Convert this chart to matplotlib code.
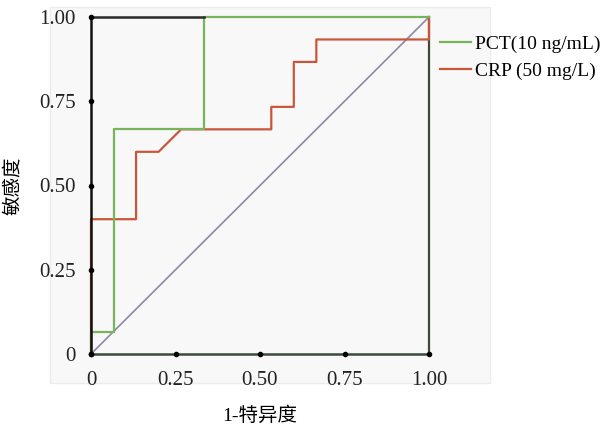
import matplotlib
matplotlib.use('agg')
from matplotlib import pyplot as plt
from matplotlib.patches import Rectangle

# ROC step points (15 negatives)
pct_fpr = [0, 0, 1/15, 1/15, 5/15, 5/15, 1.0]
pct_tpr = [0, 1/15, 1/15, 10/15, 10/15, 1.0, 1.0]
crp_fpr = [0, 0, 2/15, 2/15, 3/15, 4/15, 8/15, 8/15, 9/15, 9/15, 10/15, 10/15, 1.0, 1.0]
crp_tpr = [0, 6/15, 6/15, 9/15, 9/15, 10/15, 10/15, 11/15, 11/15, 13/15, 13/15, 14/15, 14/15, 1.0]
ticks = [0, 0.25, 0.5, 0.75, 1.0]
tick_labels = ['0', '0.25', '0.50', '0.75', '1.00']
series_names = ['PCT(10 ng/mL)', 'CRP (50 mg/L)']

plt.rcParams['font.family'] = ['Liberation Serif', 'Noto Sans CJK SC']
green = '#78b45a'
red = '#c9563a'

fig = plt.figure(figsize=(6.12, 4.24), dpi=100)
# faint grey chart panel behind the plot
fig.patches.append(Rectangle((50/612, 1 - 383/424), 440/612, 376/424, transform=fig.transFigure,
                             facecolor='#f8f8f8', edgecolor='#ececec', lw=1, zorder=-10))
ax = fig.add_axes([91/612, 1 - 354/424, 338/612, 337/424])
ax.set_facecolor('none')

ax.plot([0, 1], [0, 1], color='#8a8aa6', lw=1.2, zorder=2)
ax.plot(crp_fpr, crp_tpr, color=red, lw=1.6, zorder=3, label=series_names[1], clip_on=False)
ax.plot(pct_fpr, pct_tpr, color=green, lw=1.6, zorder=4, label=series_names[0], clip_on=False)
# dark frame piece along the top left
ax.plot([0, 5/15], [1, 1], color='#2a2a2a', lw=1.8, zorder=5, clip_on=False)

ax.set_xlim(0, 1)
ax.set_ylim(0, 1)
ax.spines['top'].set_visible(False)
ax.spines['left'].set_color('#111111')
ax.spines['left'].set_linewidth(1.8)
ax.spines['bottom'].set_color('#3c4a3c')
ax.spines['bottom'].set_linewidth(1.8)
ax.spines['right'].set_color('#3c4a3c')
ax.spines['right'].set_linewidth(1.6)
ax.spines['left'].set_zorder(6)
ax.spines['bottom'].set_zorder(6)
ax.spines['right'].set_zorder(1)

ax.set_xticks(ticks)
ax.set_xticklabels(tick_labels)
ax.set_yticks(ticks)
ax.set_yticklabels(tick_labels)
ax.tick_params(length=0, labelsize=15, colors='#222222')
ax.tick_params(axis='x', pad=12)
ax.tick_params(axis='y', pad=11)
# dot tick marks
ax.plot(ticks, [0] * 5, 'o', color='black', ms=3, clip_on=False, zorder=7)
ax.plot([0] * 5, ticks, 'o', color='black', ms=3, clip_on=False, zorder=7)

ax.set_xlabel('1-特异度', fontsize=14, labelpad=12)
ax.set_ylabel('敏感度', fontsize=14, labelpad=12)

h, l = ax.get_legend_handles_labels()
ax.legend(h[::-1], l[::-1], loc='upper left', bbox_to_anchor=(1.01, 0.97), frameon=False,
          fontsize=14, handlelength=1.6, handletextpad=0.2, labelspacing=0.5, borderaxespad=0)

plt.savefig('out.png', dpi=100)
plt.close()
